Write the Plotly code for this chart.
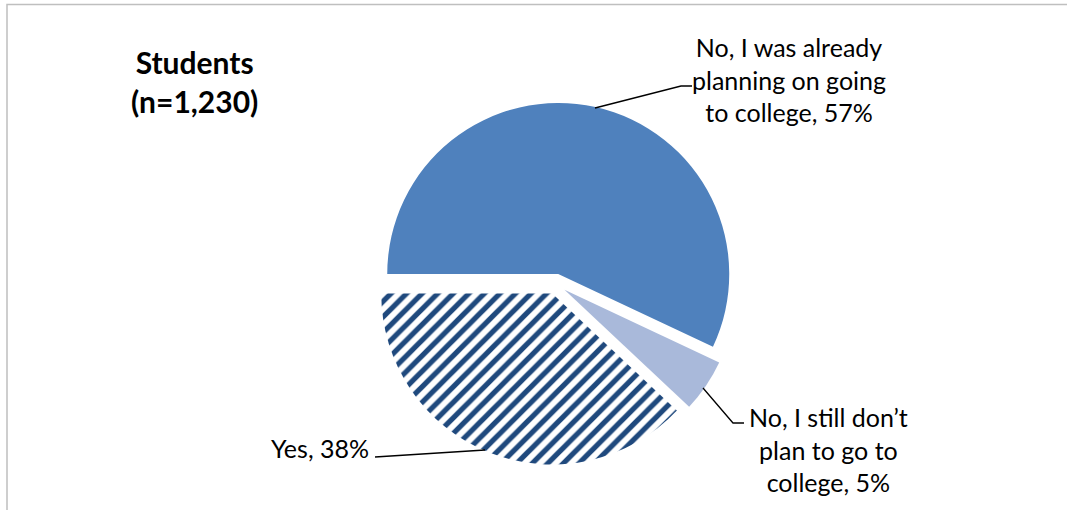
import plotly.graph_objects as go

W, H = 1067, 510

# Survey answers (percent of students)
labels = ["No, I was already planning on going to college", "No, I still don\u2019t plan to go to college", "Yes"]
label_lines = [
    ["No, I was already", "planning on going", "to college"],
    ["No, I still don\u2019t", "plan to go to", "college"],
    ["Yes"],
]
values = [57, 5, 38]
colors = ["#4F81BD", "#A9B9DA", "#FFFFFF"]
patterns = ["", "", "/"]
group_title = ["Students", "(n=1,230)"]


def px(x):
    return x / W


def py(y):
    return 1 - y / H


def label_text(i):
    lines = list(label_lines[i])
    lines[-1] = f"{lines[-1]}, {values[i]}%"
    return "<br>".join(lines)


# pie geometry (pixels): centre and radius, with every slice pulled a little
cx, cy, r, pull = 556, 284, 171, 0.06
half = r * (1 + pull)

fig = go.Figure(
    go.Pie(
        labels=labels,
        values=values,
        sort=False,
        direction="clockwise",
        rotation=-90,
        pull=[pull] * len(values),
        textinfo="none",
        hoverinfo="label+percent",
        marker=dict(
            colors=colors,
            line=dict(width=0),
            pattern=dict(shape=patterns, fgcolor="#1F497D", bgcolor="#FFFFFF",
                         size=11, solidity=0.48, fillmode="replace"),
        ),
        domain=dict(x=[px(cx - half), px(cx + half)], y=[py(cy + half), py(cy - half)]),
        showlegend=False,
    )
)

font = dict(family="Lato, Carlito, Calibri, sans-serif", size=25, color="#000000")

annotations = [
    dict(x=px(789), y=py(79), text=label_text(0), xanchor="center", yanchor="middle", align="center"),
    dict(x=px(828), y=py(449), text=label_text(1), xanchor="center", yanchor="middle", align="center"),
    dict(x=px(371), y=py(448), text=label_text(2), xanchor="right", yanchor="middle", align="right"),
    dict(x=px(194), y=py(82), text="<b>" + "<br>".join(group_title) + "</b>",
         xanchor="center", yanchor="middle", align="center",
         font=dict(family="Lato, Carlito, Calibri, sans-serif", size=30, color="#000000")),
]
for a in annotations:
    a.update(xref="paper", yref="paper", showarrow=False)
    a.setdefault("font", font)


def path(points):
    return "M " + " L ".join(f"{px(x)},{py(y)}" for x, y in points)


leader = dict(color="#000000", width=1.3)
shapes = [
    # chart area border
    dict(type="rect", xref="paper", yref="paper", x0=px(7), y0=-0.2, x1=1.2, y1=py(4.5),
         line=dict(color="#BFBFBF", width=1.5), fillcolor="rgba(0,0,0,0)", layer="below"),
    dict(type="path", xref="paper", yref="paper", path=path([(595, 108), (681, 86), (692, 86)]), line=leader),
    dict(type="path", xref="paper", yref="paper", path=path([(703, 388), (733, 423), (744, 423)]), line=leader),
    dict(type="path", xref="paper", yref="paper", path=path([(485, 450), (375, 457)]), line=leader),
]

fig.update_layout(
    width=W,
    height=H,
    margin=dict(l=0, r=0, t=0, b=0),
    paper_bgcolor="#FFFFFF",
    plot_bgcolor="#FFFFFF",
    annotations=annotations,
    shapes=shapes,
)

fig.write_html("out.html")
